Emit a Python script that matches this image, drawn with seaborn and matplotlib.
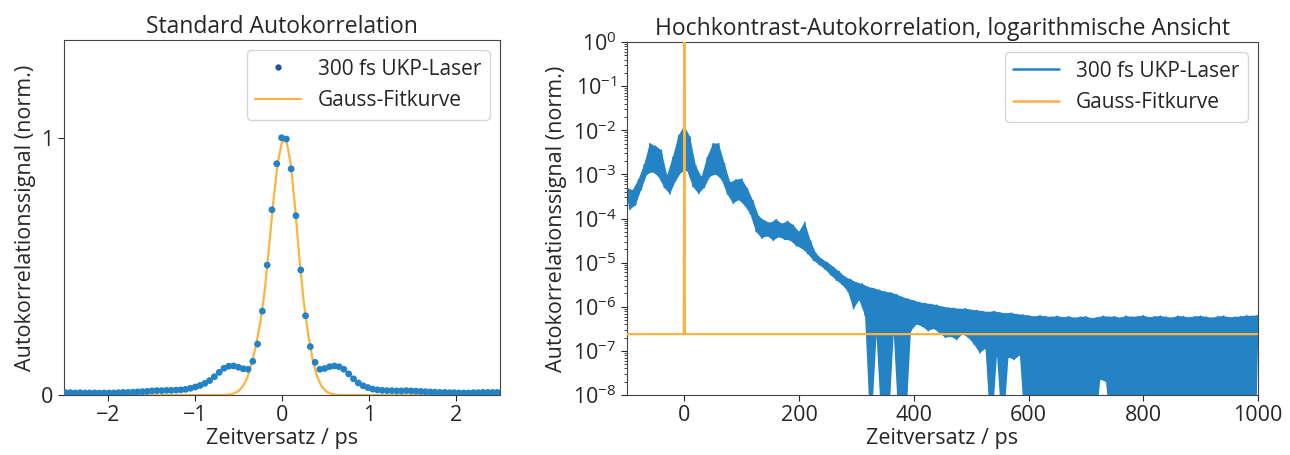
import numpy as np
import pandas as pd
import matplotlib
matplotlib.use("Agg")
import matplotlib.pyplot as plt
from matplotlib.lines import Line2D
from matplotlib.ticker import NullFormatter, LogLocator
import seaborn as sns

# ---------------- data: left panel (standard autocorrelation) ----------------
std_x_start = -2.48
std_x_step = 0.055
std_signal = [
    0.009, 0.009, 0.008, 0.009, 0.008, 0.008, 0.008, 0.007, 0.008, 0.008,
    0.008, 0.009, 0.010, 0.010, 0.011, 0.012, 0.013,
    0.014, 0.016, 0.017, 0.017, 0.018, 0.018, 0.019, 0.020,
    0.022, 0.026, 0.031, 0.037, 0.045, 0.056, 0.071, 0.088, 0.104, 0.112,
    0.113, 0.108, 0.102, 0.100, 0.131, 0.198, 0.326, 0.505, 0.720, 0.899,
    1.000, 0.995, 0.879, 0.697, 0.486, 0.308, 0.188, 0.127, 0.100, 0.103,
    0.110, 0.113, 0.110, 0.100, 0.082, 0.063, 0.047, 0.036, 0.029, 0.023,
    0.020, 0.018, 0.017, 0.017, 0.016, 0.016, 0.017, 0.016, 0.015,
    0.014, 0.013, 0.012, 0.011, 0.010, 0.010, 0.009, 0.009, 0.008, 0.008,
    0.008, 0.009, 0.009, 0.010, 0.010, 0.010, 0.010,
]
fit_x = [-2.5, -0.65, -0.6, -0.55, -0.5, -0.45, -0.4, -0.35, -0.3, -0.25, -0.2,
         -0.15, -0.1, -0.05, 0.0, 0.05, 0.1, 0.15, 0.2, 0.25, 0.3, 0.35, 0.4,
         0.45, 0.5, 0.55, 0.6, 0.65, 2.5]
fit_y = [0.0, 0.0, 0.002, 0.006, 0.015, 0.033, 0.065, 0.12, 0.19, 0.28, 0.40,
         0.57, 0.75, 0.90, 0.985, 0.99, 0.90, 0.73, 0.53, 0.36, 0.235, 0.14,
         0.075, 0.036, 0.016, 0.006, 0.002, 0.0, 0.0]

# ---------------- data: right panel (high-contrast, log) ----------------
# upper envelope (log10) at -100, -90, ..., 1000 ps
hc_upper_x0, hc_upper_dx = -100, 10
hc_upper_log = [
    -3.30, -3.36, -3.12, -2.78, -2.30, -2.36, -2.45, -3.02, -2.61, -2.12,
    -1.90, -2.15, -2.80, -3.06, -2.61, -2.30, -2.30, -2.75, -3.18, -3.12,
    -3.10, -3.32, -3.60, -3.95, -4.05, -4.10, -4.02, -4.12, -4.06, -4.15,
    -4.30, -4.08, -4.50, -4.80, -4.92, -5.00, -5.10, -5.20, -5.32, -5.38,
    -5.45, -5.48, -5.55, -5.58, -5.62, -5.66, -5.68, -5.72, -5.78, -5.82,
    -5.86, -5.90, -5.92, -5.94, -5.96, -6.00, -6.02, -6.03, -6.05, -6.04,
    -6.07, -6.08, -6.10, -6.12, -6.10, -6.13, -6.15, -6.14, -6.17, -6.18,
    -6.20, -6.22, -6.20, -6.22, -6.23, -6.21, -6.24, -6.22, -6.25, -6.23,
    -6.22, -6.26, -6.24, -6.21, -6.23, -6.22, -6.25, -6.21, -6.23, -6.22,
    -6.20, -6.24, -6.22, -6.21, -6.23, -6.25, -6.21, -6.22, -6.24, -6.22,
    -6.21, -6.23, -6.25, -6.22, -6.21, -6.24, -6.23, -6.22, -6.20, -6.21,
    -6.19,
]
# lower envelope (log10) at -95, -85, ..., 995 ps ; -9 = signal dropped below 1e-8
hc_lower_x0, hc_lower_dx = -95, 10
hc_lower_log = [
    -3.80, -3.70, -3.35, -3.00, -2.95, -3.05, -3.30, -3.45, -3.15, -2.95,
    -2.92, -3.28, -3.44, -3.30, -3.05, -3.00, -3.12, -3.45, -3.66, -3.58,
    -3.70, -3.90, -4.30, -4.45, -4.40, -4.50, -4.42, -4.48, -4.50, -4.62,
    -4.68, -4.80, -4.95, -5.05, -5.15, -5.28, -5.40, -5.50, -5.65, -6.05,
    -5.85, -6.20, -9.00, -6.65, -9.00, -9.00, -6.60, -9.00, -9.00, -6.55,
    -6.40, -6.45, -6.55, -6.50, -6.60, -6.70, -6.68, -6.75, -6.62, -6.70,
    -6.85, -7.05, -6.95, -9.00, -7.10, -9.00, -7.15, -7.20, -7.10, -9.00,
    -9.00, -9.00, -9.00, -9.00, -9.00, -9.00, -9.00, -9.00, -9.00, -9.00,
    -9.00, -9.00, -7.65, -7.70, -9.00, -9.00, -9.00, -9.00, -9.00, -9.00,
    -9.00, -9.00, -9.00, -9.00, -9.00, -9.00, -9.00, -9.00, -9.00, -9.00,
    -9.00, -9.00, -9.00, -9.00, -9.00, -9.00, -9.00, -9.00, -9.00, -9.00,
]
# narrow coherence spike at zero delay
spike_x = [0.0, 0.0]
spike_y = [1.0e-2, 1.2e-1]

hc_fit_x = [-100, -1, 0, 1, 1000]
hc_fit_y = [2.4e-7, 2.4e-7, 1.0, 2.4e-7, 2.4e-7]

log_yticks = [1e-8, 1e-7, 1e-6, 1e-5, 1e-4, 1e-3, 1e-2, 1e-1, 1e0]

label_data = "300 fs UKP-Laser"
label_fit = "Gauss-Fitkurve"
title_left = "Standard Autokorrelation"
title_right = "Hochkontrast-Autokorrelation, logarithmische Ansicht"
xlabel = "Zeitversatz / ps"
ylabel = "Autokorrelationssignal (norm.)"

# ---------------- build frames ----------------
std_x = std_x_start + std_x_step * np.arange(len(std_signal))
df_std = pd.DataFrame({"t": std_x, "s": std_signal})
df_fit = pd.DataFrame({"t": fit_x, "s": fit_y})

ux = hc_upper_x0 + hc_upper_dx * np.arange(len(hc_upper_log))
lx = hc_lower_x0 + hc_lower_dx * np.arange(len(hc_lower_log))
uy = 10.0 ** np.array(hc_upper_log)
ly = 10.0 ** np.array(hc_lower_log)
hx = np.empty(len(ux) + len(lx))
hy = np.empty(len(ux) + len(lx))
hx[0::2] = ux
hx[1::2] = lx
hy[0::2] = uy
hy[1::2] = ly
df_hc = pd.DataFrame({"t": hx, "s": hy})
df_hcfit = pd.DataFrame({"t": hc_fit_x, "s": hc_fit_y})
df_spike = pd.DataFrame({"t": spike_x, "s": spike_y})
poly_x = np.concatenate([ux, lx[::-1]])
poly_y = np.concatenate([uy, ly[::-1]])

# ---------------- style ----------------
sns.set_style("ticks")
plt.rcParams["font.family"] = ["Open Sans", "DejaVu Sans"]
plt.rcParams["mathtext.fontset"] = "custom"
plt.rcParams["mathtext.rm"] = "Open Sans"
plt.rcParams["mathtext.it"] = "Open Sans:italic"
plt.rcParams["mathtext.bf"] = "Open Sans:bold"
plt.rcParams["axes.unicode_minus"] = True

BLUE = "#2383c5"
ORANGE = "#fbb440"
FS = 15
FS_LAB = 15.5
FS_TITLE = 16.5

fig = plt.figure(figsize=(12.9, 4.55), dpi=100)
ax1 = fig.add_axes([64 / 1290, 60 / 455, 436 / 1290, 355 / 455])
ax2 = fig.add_axes([627 / 1290, 60 / 455, 631 / 1290, 353 / 455])

# left
sns.lineplot(data=df_fit, x="t", y="s", ax=ax1, color=ORANGE, lw=1.6,
             estimator=None, sort=False, zorder=2)
sns.scatterplot(data=df_std, x="t", y="s", ax=ax1, color=BLUE, s=24,
                edgecolor="none", zorder=3)
ax1.set_xlim(-2.5, 2.5)
ax1.set_ylim(0, 1.38)
ax1.set_yticks([0, 1])
ax1.set_yticklabels(["0", "1"])
ax1.set_xticks([-2, -1, 0, 1, 2])
ax1.set_title(title_left, fontsize=FS_TITLE, pad=5)
ax1.set_xlabel(xlabel, fontsize=FS_LAB, labelpad=1)
ax1.set_ylabel(ylabel, fontsize=FS_LAB)
h1 = [Line2D([], [], ls="none", marker="o", ms=3.5, color="#1f4fa3"),
      Line2D([], [], color=ORANGE, lw=1.6)]
ax1.legend(h1, [label_data, label_fit], loc="upper right", fontsize=FS,
           frameon=True, borderaxespad=0.5, handlelength=2.2)

# right
ax2.fill(poly_x, poly_y, color=BLUE, lw=0, zorder=1)
sns.lineplot(data=df_hc, x="t", y="s", ax=ax2, color=BLUE, lw=1.0,
             estimator=None, sort=False, zorder=2)
sns.lineplot(data=df_spike, x="t", y="s", ax=ax2, color=BLUE, lw=1.0,
             estimator=None, sort=False, zorder=2)
sns.lineplot(data=df_hcfit, x="t", y="s", ax=ax2, color=ORANGE, lw=1.6,
             estimator=None, sort=False, zorder=3)
ax2.set_yscale("log")
ax2.set_xlim(-100, 1000)
ax2.set_ylim(1e-8, 1)
ax2.set_yticks(log_yticks)
ax2.yaxis.set_minor_locator(LogLocator(base=10, subs=np.arange(2, 10), numticks=20))
ax2.yaxis.set_minor_formatter(NullFormatter())
ax2.set_xticks([0, 200, 400, 600, 800, 1000])
ax2.set_title(title_right, fontsize=FS_TITLE, pad=5)
ax2.set_xlabel(xlabel, fontsize=FS_LAB, labelpad=1)
ax2.set_ylabel(ylabel, fontsize=FS_LAB)
h2 = [Line2D([], [], color=BLUE, lw=1.8), Line2D([], [], color=ORANGE, lw=1.8)]
ax2.legend(h2, [label_data, label_fit], loc="upper right", fontsize=FS,
           frameon=True, borderaxespad=0.5, handlelength=2.2)

for ax in (ax1, ax2):
    ax.tick_params(labelsize=FS_LAB, direction="out", length=4)
    ax.tick_params(which="minor", length=2)
    for sp in ax.spines.values():
        sp.set_color("#444444")

fig.savefig("out.png", dpi=100)
